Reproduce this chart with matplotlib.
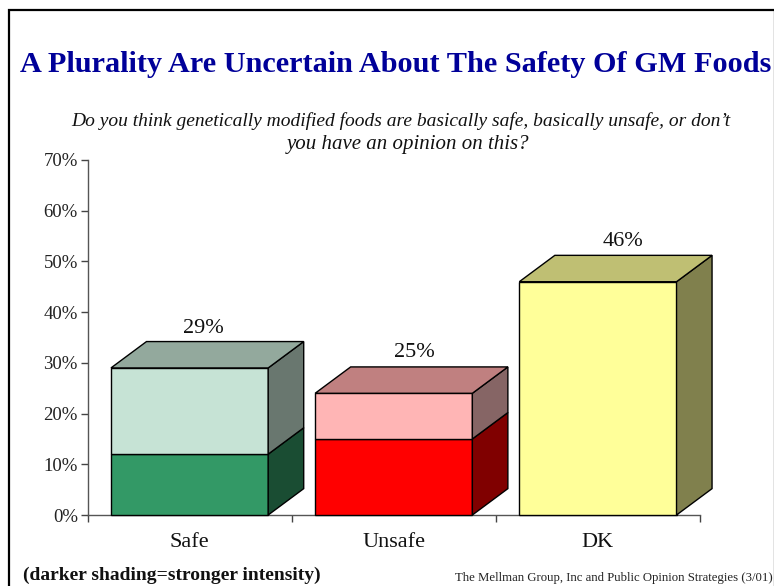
import matplotlib
matplotlib.use("Agg")
import matplotlib.pyplot as plt
from matplotlib.patches import Polygon, Rectangle

plt.rcParams["font.family"] = ["Liberation Serif", "DejaVu Serif"]

categories = ["Safe", "Unsafe", "DK"]
strong = [12, 15, 46]
weak = [17, 9, 0]
totals = ["29%", "25%", "46%"]
yticks = [0, 10, 20, 30, 40, 50, 60, 70]

front_low = ["#339966", "#FF0000", "#FFFF99"]
side_low = ["#1A4D33", "#800000", "#80804D"]
top_low = ["#1A4D33", "#800000", "#BFBF73"]
front_up = ["#C6E3D5", "#FFB5B5", "#FFFF99"]
side_up = ["#69776F", "#866565", "#80804D"]
top_up = ["#93A99D", "#C08080", "#BFBF73"]

W, H = 774, 586
BAR_W = 0.77
DX = 0.174   # depth of the 3d box, in category units
DY = 5.2     # same, in percent
label_dx = [0.07, 0.10, 0.125]   # the value labels drift right of the bar centre
label_dy = [0.7, 1.0, 0.8]


def box(ax, x, y0, y1, front, side, top=None):
    left, right = x - BAR_W / 2, x + BAR_W / 2
    ax.bar(x, y1 - y0, BAR_W, bottom=y0, color=front, edgecolor="k", lw=1, zorder=3, clip_on=False)
    ax.add_patch(Polygon([(right, y0), (right + DX, y0 + DY), (right + DX, y1 + DY), (right, y1)],
                         fc=side, ec="k", lw=1, zorder=3, clip_on=False))
    if top:
        ax.add_patch(Polygon([(left, y1), (left + DX, y1 + DY), (right + DX, y1 + DY), (right, y1)],
                             fc=top, ec="k", lw=1, zorder=3, clip_on=False))


fig = plt.figure(figsize=(W / 100, H / 100), dpi=100)
fig.patch.set_facecolor("white")

# slide frame
fig.add_artist(Rectangle((8.5 / W, -0.02), 0.99, 1 - 9.5 / H + 0.02, transform=fig.transFigure,
                         fc="none", ec="k", lw=1.6))

ax = fig.add_axes([87.5 / W, 1 - 515 / H, (700 - 87.5) / W, (515 - 160) / H])
ax.set_xlim(0, 3)
ax.set_ylim(0, 70)
ax.patch.set_alpha(0)
for s in ("top", "right"):
    ax.spines[s].set_visible(False)
for s in ("left", "bottom"):
    ax.spines[s].set_color("#555555")
    ax.spines[s].set_linewidth(1)

ax.set_yticks(yticks)
ax.set_yticklabels([f"{v}%" for v in yticks], fontsize=13.5, color="#222222")
ax.tick_params(axis="y", length=5, width=1, color="#444444", pad=2)
ax.set_xticks([0, 1, 2, 3])
ax.set_xticklabels([])
ax.tick_params(axis="x", length=5, width=1, color="#444444")

for i, cat in enumerate(categories):
    x = i + 0.5
    total = strong[i] + weak[i]
    if weak[i]:
        box(ax, x, 0, strong[i], front_low[i], side_low[i])
        box(ax, x, strong[i], total, front_up[i], side_up[i], top_up[i])
    else:
        box(ax, x, 0, total, front_low[i], side_low[i], top_low[i])
    ax.text(x + label_dx[i], total + DY + label_dy[i], totals[i], ha="center", va="bottom",
            fontsize=16, color="#111111")
    ax.text(x, -3.6, cat, ha="center", va="top", fontsize=16, color="#111111")

fig.text(395.5 / W, 1 - 65 / H, "A Plurality Are Uncertain About The Safety Of GM Foods", ha="center", va="center",
         fontsize=21.8, fontweight="bold", color="#000099")
fig.text(401 / W, 1 - 121 / H, "Do you think genetically modified foods are basically safe, basically unsafe, or don\u2019t",
         ha="center", va="center", fontsize=14, style="italic", color="#111111")
fig.text(408 / W, 1 - 144 / H, "you have an opinion on this?", ha="center", va="center",
         fontsize=15, style="italic", color="#111111")
fig.text(23 / W, 1 - 575 / H, "(darker shading=stronger intensity)", ha="left", va="center",
         fontsize=14, fontweight="bold", color="#111111")
fig.text(773 / W, 1 - 578 / H, "The Mellman Group, Inc and Public Opinion Strategies (3/01)", ha="right", va="center",
         fontsize=9.2, color="#222222")

fig.savefig("out.png", dpi=100)
